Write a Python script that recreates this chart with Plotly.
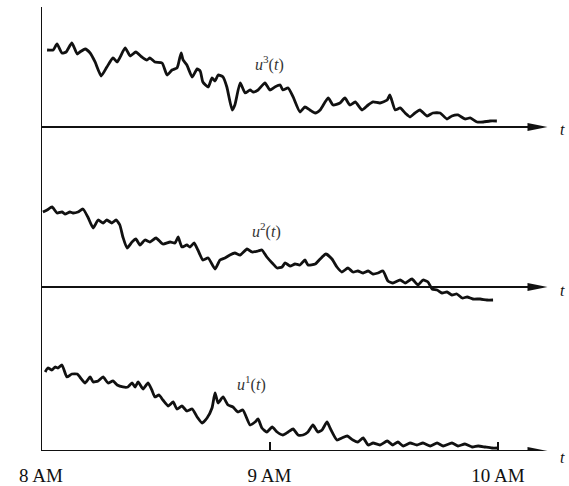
import plotly.graph_objects as go

# Time axis: minutes after 8 AM
TICK_MINUTES = [0, 60, 120]
TICK_LABELS = ["8 AM", "9 AM", "10 AM"]

# u3(t) -- top record
t3 = [1.6, 3.2, 4.2, 5.5, 6.6, 8.1, 9.5, 10.2, 11.6, 12.9, 14.2, 15.8, 17.3, 18.9, 20.0,
      22.1, 23.4, 24.9, 26.5, 27.8, 28.6, 29.9, 31.8, 33.1, 34.4, 35.7, 36.0, 36.8, 37.3,
      38.3, 39.7, 41.0, 41.8, 42.5, 43.9, 44.9, 45.7, 46.5, 47.8, 48.8, 50.2, 50.9, 52.3,
      53.6, 54.9, 55.7, 57.0, 58.8, 60.1, 61.4, 62.8, 63.5, 64.9, 66.2, 68.0, 69.3, 70.6,
      72.0, 73.3, 75.4, 76.7, 78.5, 79.8, 81.1, 82.5, 84.3, 85.9, 87.2, 89.0, 90.9, 91.6,
      93.0, 94.3, 95.6, 96.9, 98.2, 99.5, 101.4, 102.9, 104.8, 106.6, 107.9, 109.5, 111.3,
      112.7, 114.5, 116.1, 117.9, 119.7]
u3 = [77, 77, 83, 74, 75, 84, 73, 75, 78, 74, 65, 51, 60, 69, 65,
      79, 71, 75, 70, 67, 69, 65, 64, 52, 57, 59, 62, 74, 67,
      62, 50, 58, 56, 45, 40, 49, 46, 52, 50, 40, 17, 22, 44,
      34, 37, 35, 37, 44, 37, 40, 42, 37, 39, 30, 15, 20, 17,
      14, 17, 29, 22, 24, 29, 22, 25, 17, 22, 25, 24, 27, 32,
      17, 19, 14, 10, 14, 17, 11, 14, 14, 8, 11, 12, 8,
      9, 5, 5, 6, 6]

# u2(t) -- middle record
t2 = [0.5, 1.6, 2.9, 4.2, 5.5, 6.3, 7.6, 8.4, 9.7, 11.0, 12.3, 13.7, 15.0, 16.3, 17.3,
      18.6, 19.7, 20.7, 21.5, 22.6, 23.9, 24.9, 26.0, 27.3, 28.6, 30.2, 32.0, 33.9, 35.2,
      36.0, 37.0, 38.3, 39.1, 40.2, 41.2, 42.5, 43.9, 45.7, 47.0, 48.3, 49.6, 50.9, 52.3,
      54.1, 55.4, 57.0, 58.0, 59.3, 60.7, 62.0, 63.3, 64.1, 65.4, 66.7, 68.0, 69.3, 70.1,
      72.0, 73.3, 74.8, 76.4, 77.7, 79.0, 80.6, 81.9, 83.2, 84.6, 85.9, 87.2, 88.5, 89.8,
      91.1, 92.4, 94.3, 95.6, 97.4, 99.0, 100.3, 101.6, 102.7, 104.0, 105.3, 106.6, 107.9,
      109.2, 110.6, 111.9, 113.4, 115.3, 117.1, 118.7]
u2 = [75, 77, 80, 74, 75, 73, 75, 74, 75, 78, 70, 59, 67, 64, 67,
      64, 67, 62, 50, 39, 45, 48, 42, 47, 45, 49, 43, 45, 44,
      50, 40, 42, 40, 44, 37, 27, 29, 18, 27, 29, 32, 34, 32,
      38, 35, 36, 37, 30, 24, 19, 20, 24, 21, 23, 22, 27, 22,
      23, 28, 33, 28, 20, 15, 19, 15, 16, 14, 16, 13, 14, 16,
      6, 4, 7, 4, 8, 2, 7, 5, -2, -3, -6, -5, -8,
      -7, -11, -10, -12, -12, -13, -13]

# u1(t) -- bottom record
t1 = [1.1, 1.8, 2.9, 3.7, 4.5, 5.5, 6.8, 8.1, 9.5, 10.2, 11.6, 12.9, 13.7, 15.0, 16.3,
      17.6, 18.9, 20.0, 21.5, 22.8, 23.9, 24.7, 25.5, 26.8, 28.1, 29.1, 29.9, 31.0, 32.0,
      33.4, 34.7, 35.7, 37.0, 38.3, 39.7, 41.0, 42.3, 43.6, 44.9, 45.7, 46.5, 47.8, 49.1,
      50.4, 51.7, 53.0, 54.9, 56.2, 57.0, 58.0, 59.3, 60.7, 62.0, 63.5, 64.9, 66.2, 67.5,
      68.8, 70.1, 71.4, 72.7, 73.8, 75.1, 75.9, 77.7, 79.0, 80.4, 81.9, 83.2, 84.6, 85.9,
      87.2, 89.0, 90.9, 92.4, 93.7, 95.1, 96.9, 98.7, 100.3, 102.2, 104.0, 105.6, 107.9,
      109.5, 111.3, 113.2, 114.8, 116.6, 118.4, 120.0]
u1 = [79, 83, 81, 84, 83, 86, 74, 77, 77, 74, 68, 74, 69, 70, 74,
      68, 70, 66, 64, 64, 68, 64, 69, 62, 68, 61, 54, 56, 51,
      45, 49, 42, 45, 40, 42, 34, 28, 33, 43, 58, 48, 54, 46,
      44, 39, 41, 26, 29, 32, 23, 19, 24, 19, 16, 19, 22, 16,
      16, 19, 26, 19, 21, 29, 23, 11, 13, 15, 11, 9, 13, 6,
      8, 6, 10, 6, 9, 5, 8, 6, 8, 5, 8, 5, 8,
      5, 7, 4, 5, 4, 3, 3]

X_MAX = 133.65      # right edge of the time axis (minutes)
ARROW_END = 133.0   # where each time axis ends in an arrowhead
T_LABEL_X = 1.034   # paper position of the "t" axis labels

SERIF = "Liberation Serif, Times New Roman, serif"
INK = "#111111"

fig = go.Figure()

records = [
    (t3, u3, "y", -3),
    (t2, u2, "y2", -4),
    (t1, u1, "y3", -6),
]
for t, u, ax, _ in records:
    fig.add_trace(go.Scatter(
        x=t, y=u, yaxis=ax, xaxis="x", mode="lines", cliponaxis=False,
        line=dict(color=INK, width=2.8, shape="spline", smoothing=0.5),
        showlegend=False, hoverinfo="skip",
    ))

shapes = []
annotations = []
for _, _, ax, tshift in records:
    # horizontal time axis for each record
    shapes.append(dict(type="line", xref="x", yref=ax, x0=0, x1=ARROW_END - 2,
                       y0=0, y1=0, line=dict(color=INK, width=2)))
    # arrowhead at the end of the axis
    shapes.append(dict(type="path", xref="x", yref=ax,
                       xsizemode="pixel", ysizemode="pixel",
                       xanchor=ARROW_END, yanchor=0,
                       path="M-20,-4 L0,0 L-20,4 Z",
                       fillcolor=INK, line=dict(width=0)))
    annotations.append(dict(x=T_LABEL_X, y=0, xref="paper", yref=ax, text="<i>t</i>",
                            showarrow=False, yshift=tshift,
                            font=dict(family=SERIF, size=16, color=INK)))

# shared vertical axis on the left
shapes.append(dict(type="line", xref="x", yref="paper", x0=0, x1=0, y0=0, y1=1,
                   line=dict(color=INK, width=2)))

# record labels
labels = [
    (60.1, 63, "y", "<i>u</i><sup>3</sup>(<i>t</i>)"),
    (59.1, 56, "y2", "<i>u</i><sup>2</sup>(<i>t</i>)"),
    (55.4, 67, "y3", "<i>u</i><sup>1</sup>(<i>t</i>)"),
]
for x, y, ax, txt in labels:
    annotations.append(dict(x=x, y=y, xref="x", yref=ax, text=txt, showarrow=False,
                            font=dict(family=SERIF, size=16, color="#333333")))

fig.update_layout(
    width=569, height=486,
    margin=dict(l=41, r=19, t=7, b=35, autoexpand=False),
    paper_bgcolor="white", plot_bgcolor="rgba(0,0,0,0)",
    shapes=shapes, annotations=annotations,
    xaxis=dict(range=[0, X_MAX], anchor="y3", showgrid=False, zeroline=False,
               showline=False, tickvals=TICK_MINUTES, ticktext=TICK_LABELS,
               ticks="inside", ticklen=9, tickwidth=1.5, tickcolor=INK,
               ticklabelstandoff=11, automargin=False,
               tickfont=dict(family=SERIF, size=19, color=INK)),
    yaxis=dict(domain=[0.7185, 1.0], range=[-5, 120], visible=False),
    yaxis2=dict(domain=[0.3356, 0.5946], range=[-15, 100], visible=False),
    yaxis3=dict(domain=[0.0, 0.3604], range=[0, 160], visible=False),
)

fig.write_html("out.html")
